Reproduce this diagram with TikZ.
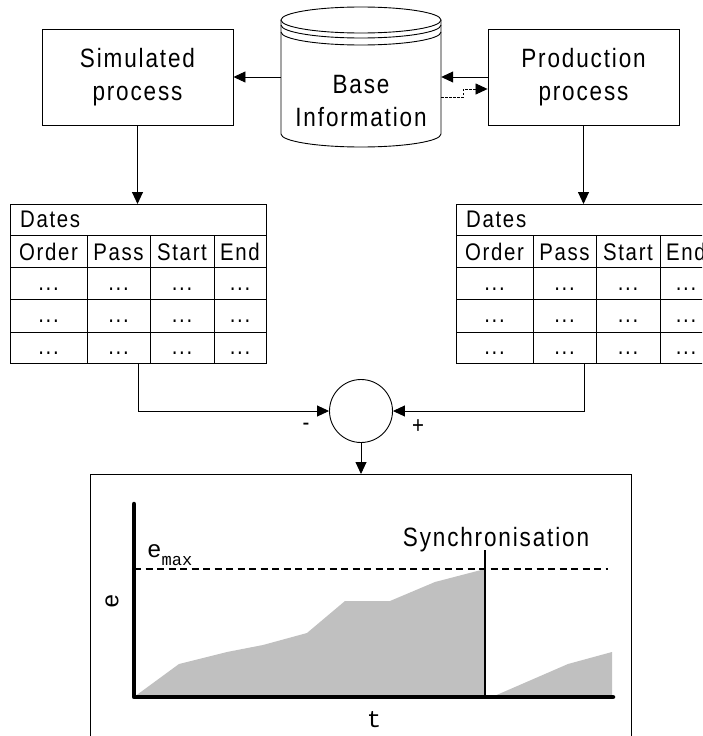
\documentclass[tikz,border=0pt]{standalone}
\usepackage{fontspec}
\usetikzlibrary{arrows.meta,calc}
\newfontfamily\lab[FakeStretch=0.85,LetterSpace=7]{Liberation Sans}
\newfontfamily\mono{Liberation Mono}
\definecolor{fillgrey}{HTML}{C0C0C0}
\tikzset{
  ln/.style={line width=0.9pt,draw=black},
  arr/.style={ln,-{Triangle[length=12pt,width=11pt]}},
  lbl/.style={font=\lab\fontsize{26.5}{33}\selectfont,align=center,inner sep=0},
  tt/.style={font=\lab\fontsize{24}{28}\selectfont,inner sep=0},
  mt/.style={font=\mono\fontsize{24}{28}\selectfont,inner sep=0},
  procbox/.style={ln,rectangle,minimum width=191pt,minimum height=96pt,inner sep=0}
}
\newcommand\dtable[2]{%
  \node[ln,rectangle,anchor=north west,minimum width=256pt,minimum height=159pt,inner sep=0] (#1) at (#2,204) {};
  \draw[ln] (#2,235) -- ++(256,0) (#2,267) -- ++(256,0) (#2,299) -- ++(256,0) (#2,332) -- ++(256,0);
  \draw[ln] (#2+77,235) -- (#2+77,363) (#2+140,235) -- (#2+140,363) (#2+204,235) -- (#2+204,363);
  \node[tt,anchor=base west] (#1-title) at (#2+10,227) {Dates};
  \node[tt,anchor=base] (#1-h1) at (#2+38.5,260) {Order};
  \node[tt,anchor=base] (#1-h2) at (#2+108.5,260) {Pass};
  \node[tt,anchor=base] (#1-h3) at (#2+172,260) {Start};
  \node[tt,anchor=base] (#1-h4) at (#2+230,260) {End};
  \foreach \c/\cx in {1/38.5,2/108.5,3/172,4/230}{
    \foreach \r/\ry in {1/290,2/322,3/354}{
      \node[tt,anchor=base] (#1-d\r\c) at (#2+\cx,\ry) {...};
    }
  }
}
\begin{document}
\begin{tikzpicture}[x=1pt,y=-1pt]
\useasboundingbox (0,0) rectangle (702,736);
\clip (0,0) rectangle (702,736);
\fill[white] (0,0) rectangle (702,736);

% process boxes
\node[procbox,draw] (sim) at (137.5,77) {};
\node[lbl] (simtxt) at (137.5,77) {Simulated\\process};
\node[procbox,draw] (prod) at (583.5,77) {};
\node[lbl] (prodtxt) at (583.5,77) {Production\\process};

% database cylinder
\node[rectangle,minimum width=160pt,minimum height=127pt,inner sep=0] (base) at (361,83.5) {};
\fill[white] (281,20) -- (281,134) arc[start angle=180,end angle=360,x radius=80pt,y radius=13pt] -- (441,20) -- cycle;
\draw[ln] (281,20) -- (281,134) arc[start angle=180,end angle=360,x radius=80pt,y radius=13pt] -- (441,20);
\draw[ln,fill=white] (361,20) ellipse[x radius=80pt,y radius=13pt];
\draw[ln] (281,25) arc[start angle=180,end angle=360,x radius=80pt,y radius=13pt];
\draw[ln] (281,32) arc[start angle=180,end angle=360,x radius=80pt,y radius=13pt];
\node[lbl] (basetxt) at (361,101) {Base\\Information};

% top connectors
\draw[arr] (sim.east -| base.west) -- (sim.east);
\draw[arr] (prod.west) -- (prod.west -| base.east);
\coordinate (dA) at (441,97);
\coordinate (dB) at (463,97);
\coordinate (dC) at (463,89);
\draw[ln,line width=0.7pt,dash pattern=on 2.5pt off 1.5pt,-{Triangle[length=12pt,width=11pt]}] (dA) -- (dB) -- (dC) -- (dC -| prod.west);

% tables
\dtable{tl}{10}
\dtable{tr}{456}
\draw[arr] (sim.south) -- (sim.south |- tl.north);
\draw[arr] (prod.south) -- (prod.south |- tr.north);

% summing junction
\node[ln,draw,circle,minimum size=63pt,inner sep=0] (sum) at (361,411) {};
\draw[arr] (tl.south) |- (sum.west);
\draw[arr] (tr.south) |- (sum.east);
\node[tt] (minus) at (306,427) {-};
\node[tt] (plus) at (418,427) {+};

% chart
\node[ln,draw,rectangle,anchor=north west,minimum width=541pt,minimum height=300pt,inner sep=0] (chart) at (90,474) {};
\draw[arr] (sum.south) -- (chart.north -| sum.south);

\fill[fillgrey] (134,697) -- (179,664) -- (227,652) -- (263,645) -- (307,633) -- (345,601) -- (390,601) -- (435,582) -- (485,569) -- (485,697) -- cycle;
\fill[fillgrey] (492,697) -- (568,664) -- (612,652) -- (612,697) -- cycle;
\draw[line width=1.2pt,dash pattern=on 7pt off 4.5pt] (134,569) -- (608,569);
\draw[line width=1.5pt] (485,550) -- (485,697);
\draw[line width=4.5pt,line cap=round,line join=round] (134,504) -- (134,697) -- (613,697);

\node[lbl,anchor=base] (sync) at (496,546) {Synchronisation};
\node[mt,anchor=base west] (emax) at (147,557) {e\raisebox{-8pt}{\fontsize{17}{20}\selectfont max}};
\node[mt,rotate=90] (eaxis) at (112,601) {e};
\node[mt] (taxis) at (374,720) {t};
\end{tikzpicture}
\end{document}
